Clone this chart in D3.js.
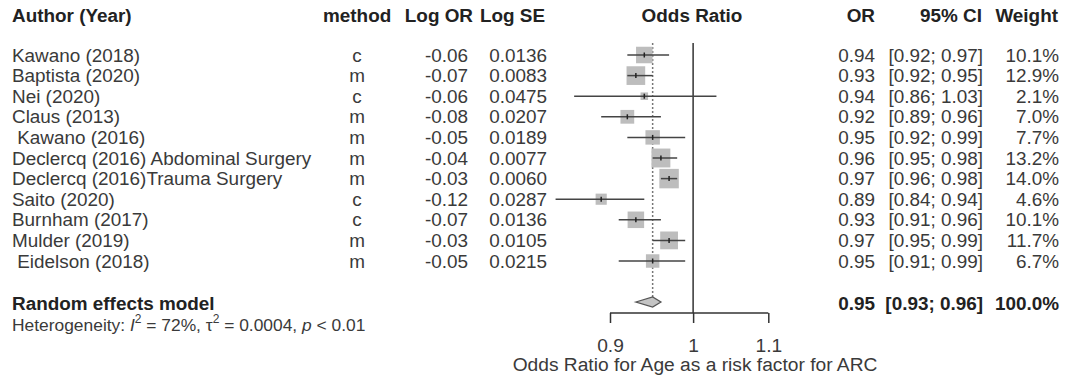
<!DOCTYPE html>
<html>
<head>
<meta charset="utf-8">
<script src="https://cdn.jsdelivr.net/npm/d3@7"></script>
<style>
  html, body { margin: 0; padding: 0; background: #fff; }
  svg { display: block; font-family: "Liberation Sans", Arial, sans-serif; }
  text { white-space: pre; }
</style>
</head>
<body>
<svg id="chart" width="1077" height="377"></svg>
<script>
// Study-level data
const authors = ["Kawano (2018)", "Baptista (2020)", "Nei (2020)", "Claus (2013)", " Kawano (2016)",
  "Declercq (2016) Abdominal Surgery", "Declercq (2016)Trauma Surgery", "Saito (2020)",
  "Burnham (2017)", "Mulder (2019)", " Eidelson (2018)"];
const methods = ["c", "m", "c", "m", "m", "m", "m", "c", "c", "m", "m"];
const logOR = [-0.06, -0.07, -0.06, -0.08, -0.05, -0.04, -0.03, -0.12, -0.07, -0.03, -0.05];
const logSE = ["0.0136", "0.0083", "0.0475", "0.0207", "0.0189", "0.0077", "0.0060", "0.0287", "0.0136", "0.0105", "0.0215"];
const oddsRatio = [0.94, 0.93, 0.94, 0.92, 0.95, 0.96, 0.97, 0.89, 0.93, 0.97, 0.95];
const ciLower = [0.92, 0.92, 0.86, 0.89, 0.92, 0.95, 0.96, 0.84, 0.91, 0.95, 0.91];
const ciUpper = [0.97, 0.95, 1.03, 0.96, 0.99, 0.98, 0.98, 0.94, 0.96, 0.99, 0.99];
const weights = [10.1, 12.9, 2.1, 7.0, 7.7, 13.2, 14.0, 4.6, 10.1, 11.7, 6.7];

// Pooled (random effects) estimate
const pooledOR = 0.95;
const pooledLower = 0.93;
const pooledUpper = 0.96;
const pooledWeight = 100.0;

// Axis ticks
const axisTicks = [0.9, 1, 1.1];

const svg = d3.select("#chart");
const FONT = 18.9;
const textDark = "#222";
const textBody = "#3a3a3a";

const x = d3.scaleLog().domain([0.9, 1.1]).range([610, 768.3]);
const y = d3.scaleLinear().domain([0, authors.length - 1]).range([55, 261]);
const yPooled = 302;
const yAxis = 313;
const boxScale = d3.scaleSqrt().domain([0, 1]).range([0, 5.2]);

function txt(g, xPos, yPos, s, anchor, bold, color, size) {
  return g.append("text")
    .attr("x", xPos).attr("y", yPos)
    .attr("dominant-baseline", "central")
    .attr("text-anchor", anchor)
    .attr("font-size", size || FONT)
    .attr("font-weight", bold ? "bold" : "normal")
    .attr("fill", color)
    .text(s);
}

// Column headers
const head = svg.append("g");
txt(head, 12, 15, "Author (Year)", "start", true, textDark);
txt(head, 323, 15, "method", "start", true, textDark);
txt(head, 473, 15, "Log OR", "end", true, textDark);
txt(head, 480, 15, "Log SE", "start", true, textDark);
txt(head, 692, 15, "Odds Ratio", "middle", true, textDark);
txt(head, 875, 15, "OR", "end", true, textDark);
txt(head, 982, 15, "95% CI", "end", true, textDark);
txt(head, 1058, 15, "Weight", "end", true, textDark);

// Table rows
const rows = svg.append("g").selectAll("g").data(authors).join("g");
rows.each(function (a, i) {
  const g = d3.select(this);
  const yy = y(i);
  txt(g, 12, yy, a, "start", false, textBody);
  txt(g, 357, yy, methods[i], "middle", false, textBody);
  txt(g, 468, yy, logOR[i].toFixed(2), "end", false, textBody);
  txt(g, 547, yy, logSE[i], "end", false, textBody);
  txt(g, 875, yy, oddsRatio[i].toFixed(2), "end", false, textBody);
  txt(g, 983, yy, "[" + ciLower[i].toFixed(2) + "; " + ciUpper[i].toFixed(2) + "]", "end", false, textBody);
  txt(g, 1059, yy, weights[i].toFixed(1) + "%", "end", false, textBody);
});

// Reference lines
const plot = svg.append("g");
plot.append("line")
  .attr("x1", x(pooledOR)).attr("x2", x(pooledOR))
  .attr("y1", 43).attr("y2", yPooled - 5)
  .attr("stroke", "#777").attr("stroke-width", 1.5)
  .attr("stroke-dasharray", "2,2");
plot.append("line")
  .attr("x1", x(1)).attr("x2", x(1))
  .attr("y1", 43).attr("y2", yAxis)
  .attr("stroke", "#333").attr("stroke-width", 1.5);

// Study markers: CI lines, weighted boxes, centre ticks
const marks = plot.append("g").selectAll("g").data(oddsRatio).join("g");
marks.each(function (d, i) {
  const g = d3.select(this);
  const yy = y(i);
  const s = boxScale(weights[i]);
  g.append("rect")
    .attr("x", x(d) - s / 2).attr("y", yy - s / 2)
    .attr("width", s).attr("height", s)
    .attr("fill", "#bdbdbd");
  g.append("line")
    .attr("x1", x(ciLower[i])).attr("x2", x(ciUpper[i]))
    .attr("y1", yy).attr("y2", yy)
    .attr("stroke", "#444").attr("stroke-width", 1.5);
  g.append("line")
    .attr("x1", x(d)).attr("x2", x(d))
    .attr("y1", yy - 2.5).attr("y2", yy + 2.5)
    .attr("stroke", "#222").attr("stroke-width", 1.5);
});

// Pooled diamond
const dh = 5;
plot.append("path")
  .attr("d", `M${x(pooledLower)},${yPooled} L${x(pooledOR)},${yPooled - dh} L${x(pooledUpper)},${yPooled} L${x(pooledOR)},${yPooled + dh} Z`)
  .attr("fill", "#c4c4c4").attr("stroke", "#555").attr("stroke-width", 1.3);

// Pooled row text
const pooled = svg.append("g");
txt(pooled, 12, 303, "Random effects model", "start", true, textDark);
txt(pooled, 875, 303, pooledOR.toFixed(2), "end", true, textDark);
txt(pooled, 983, 303, "[" + pooledLower.toFixed(2) + "; " + pooledUpper.toFixed(2) + "]", "end", true, textDark);
txt(pooled, 1059, 303, pooledWeight.toFixed(1) + "%", "end", true, textDark);

// Heterogeneity statistics
const het = pooled.append("text")
  .attr("x", 12).attr("y", 325)
  .attr("dominant-baseline", "central")
  .attr("font-size", 17.4).attr("fill", textBody);
het.append("tspan").text("Heterogeneity: ");
het.append("tspan").attr("font-style", "italic").text("I");
het.append("tspan").attr("font-size", 12).attr("dy", -6).text("2");
het.append("tspan").attr("dy", 6).text(" = 72%, \u03C4");
het.append("tspan").attr("font-size", 12).attr("dy", -6).text("2");
het.append("tspan").attr("dy", 6).text(" = 0.0004, ");
het.append("tspan").attr("font-style", "italic").text("p");
het.append("tspan").text(" < 0.01");

// Bottom axis
const axis = d3.axisBottom(x).tickValues(axisTicks).tickFormat(d3.format("")).tickSize(10).tickSizeOuter(0);
const ax = svg.append("g").attr("transform", `translate(0,${yAxis})`).call(axis);
ax.select(".domain").attr("stroke", "#333").attr("stroke-width", 1.5).attr("d", `M${x(0.9)},0H${x(1.1)}`);
ax.selectAll(".tick line").attr("stroke", "#333").attr("stroke-width", 1.5);
ax.selectAll(".tick text")
  .attr("y", 32).attr("dy", null)
  .attr("dominant-baseline", "central")
  .attr("font-size", 19.2).attr("fill", textBody)
  .attr("font-family", "Liberation Sans, Arial, sans-serif");

txt(svg, 695, 364, "Odds Ratio for Age as a risk factor for ARC", "middle", false, textBody, 19.2);
</script>
</body>
</html>
